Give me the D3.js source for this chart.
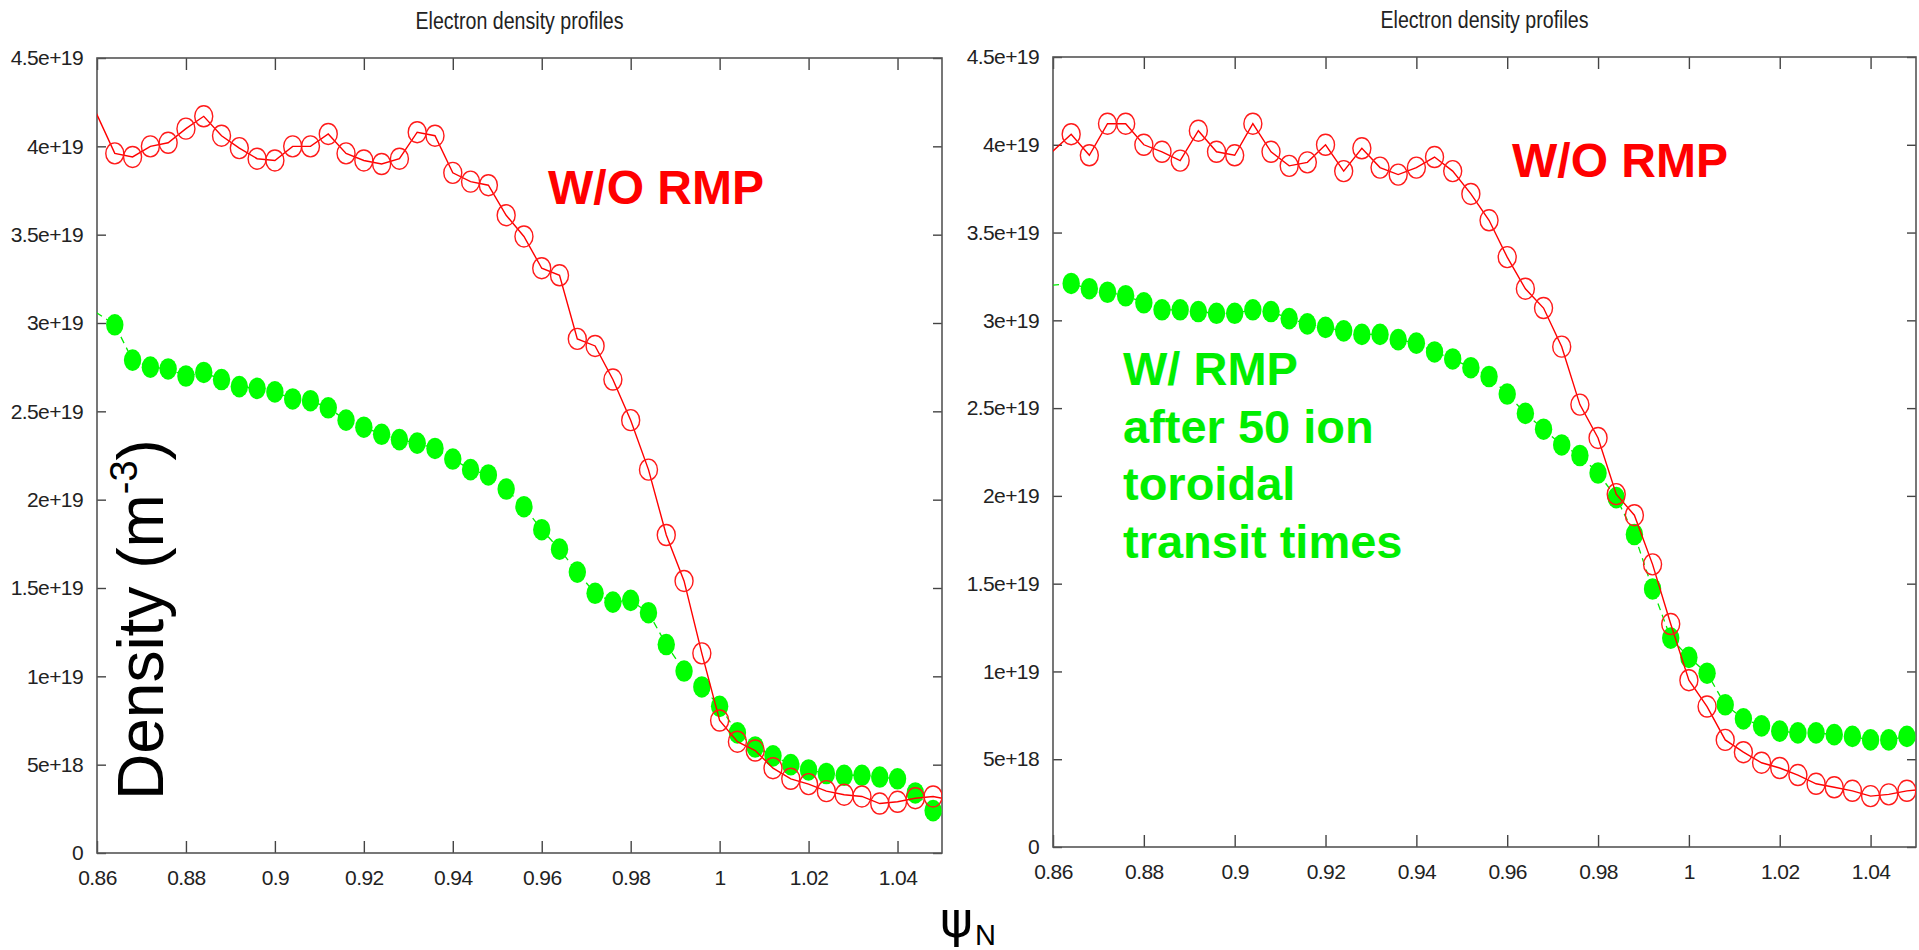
<!DOCTYPE html>
<html lang="en">
<head>
    <meta charset="UTF-8">
    <title>Electron density profiles</title>
    <script src="https://d3js.org/d3.v7.min.js"></script>
    <style>
        body {
            margin: 0;
            background: #fff;
            font-family: "Liberation Sans", Arial, sans-serif;
        }
        svg {
            display: block;
        }
        .tick text {
            font-size: 21px;
            letter-spacing: -0.6px;
            fill: #222;
            font-family: "Liberation Sans", Arial, sans-serif;
        }
        .tick line {
            stroke: #444;
            stroke-width: 1.4;
        }
        .frame {
            fill: none;
            stroke: #555;
            stroke-width: 1.6;
        }
        .title {
            font-size: 23px;
            fill: #222;
        }
    </style>
</head>
<body>
    <svg id="chart"></svg>

    <script>
        // psi_N grid (first and last points fall just outside the plot range)
        const psi = [0.8598, 0.864, 0.868, 0.872, 0.876, 0.880, 0.884, 0.888, 0.892, 0.896,
                     0.900, 0.904, 0.908, 0.912, 0.916, 0.920, 0.924, 0.928, 0.932, 0.936,
                     0.940, 0.944, 0.948, 0.952, 0.956, 0.960, 0.964, 0.968, 0.972, 0.976,
                     0.980, 0.984, 0.988, 0.992, 0.996, 1.000, 1.004, 1.008, 1.012, 1.016,
                     1.020, 1.024, 1.028, 1.032, 1.036, 1.040, 1.044, 1.048, 1.052];

        // densities in units of 1e19 m^-3
        const leftNoRmp = [4.19, 3.96, 3.94, 4.00, 4.02, 4.10, 4.17, 4.06, 3.99, 3.93,
                           3.92, 4.00, 4.00, 4.07, 3.96, 3.92, 3.90, 3.93, 4.08, 4.06,
                           3.85, 3.80, 3.78, 3.61, 3.49, 3.31, 3.27, 2.91, 2.87, 2.68,
                           2.45, 2.17, 1.80, 1.54, 1.13, 0.75, 0.63, 0.58, 0.48, 0.42,
                           0.39, 0.35, 0.33, 0.32, 0.28, 0.29, 0.31, 0.32, 0.30];

        const leftRmp = [3.06, 2.99, 2.79, 2.75, 2.74, 2.70, 2.72, 2.68, 2.64, 2.63,
                         2.61, 2.57, 2.56, 2.52, 2.45, 2.41, 2.37, 2.34, 2.32, 2.29,
                         2.23, 2.17, 2.14, 2.06, 1.96, 1.83, 1.72, 1.59, 1.47, 1.42,
                         1.43, 1.36, 1.18, 1.03, 0.94, 0.83, 0.68, 0.60, 0.55, 0.50,
                         0.47, 0.45, 0.44, 0.44, 0.43, 0.42, 0.34, 0.24, 0.20];

        const rightNoRmp = [3.96, 4.06, 3.94, 4.12, 4.12, 4.00, 3.96, 3.91, 4.08, 3.96,
                            3.94, 4.12, 3.96, 3.88, 3.90, 4.00, 3.85, 3.98, 3.87, 3.83,
                            3.87, 3.93, 3.85, 3.72, 3.57, 3.36, 3.18, 3.07, 2.85, 2.52,
                            2.33, 2.01, 1.89, 1.61, 1.27, 0.95, 0.80, 0.61, 0.54, 0.48,
                            0.45, 0.41, 0.36, 0.34, 0.32, 0.29, 0.30, 0.32, 0.33];

        const rightRmp = [3.20, 3.21, 3.18, 3.16, 3.14, 3.10, 3.06, 3.06, 3.05, 3.04,
                          3.04, 3.06, 3.05, 3.01, 2.98, 2.96, 2.94, 2.92, 2.92, 2.89,
                          2.87, 2.82, 2.78, 2.73, 2.68, 2.58, 2.47, 2.38, 2.29, 2.23,
                          2.13, 1.99, 1.78, 1.47, 1.19, 1.08, 0.99, 0.81, 0.73, 0.69,
                          0.66, 0.65, 0.65, 0.64, 0.63, 0.61, 0.61, 0.63, 0.63];

        // axes
        const xDomain = [0.86, 1.05];
        const yDomain = [0, 4.5e19];
        const xTicks = [0.86, 0.88, 0.90, 0.92, 0.94, 0.96, 0.98, 1.00, 1.02, 1.04];
        const xTickLabels = ["0.86", "0.88", "0.9", "0.92", "0.94", "0.96", "0.98", "1", "1.02", "1.04"];
        const yTicks = [0, 5e18, 1e19, 1.5e19, 2e19, 2.5e19, 3e19, 3.5e19, 4e19, 4.5e19];
        const yTickLabels = ["0", "5e+18", "1e+19", "1.5e+19", "2e+19", "2.5e+19", "3e+19", "3.5e+19", "4e+19", "4.5e+19"];

        const W = 1919, H = 950;
        const svg = d3.select("#chart")
                      .attr("width", W)
                      .attr("height", H);

        function drawPanel(id, box, noRmp, rmp) {
            const x = d3.scaleLinear().domain(xDomain).range([box.left, box.right]);
            const y = d3.scaleLinear().domain(yDomain).range([box.bottom, box.top]);

            svg.append("clipPath")
               .attr("id", "clip-" + id)
               .append("rect")
               .attr("x", box.left)
               .attr("y", box.top)
               .attr("width", box.right - box.left)
               .attr("height", box.bottom - box.top);

            // Bottom axis with labels, ticks pointing in
            svg.append("g")
               .attr("transform", `translate(0,${box.bottom})`)
               .call(d3.axisBottom(x).tickValues(xTicks)
                       .tickFormat((d, i) => xTickLabels[i])
                       .tickSizeInner(-12).tickSizeOuter(0).tickPadding(17))
               .call(g => g.select(".domain").remove());

            // Mirror ticks on top
            svg.append("g")
               .attr("transform", `translate(0,${box.top})`)
               .call(d3.axisTop(x).tickValues(xTicks).tickFormat("")
                       .tickSizeInner(-12).tickSizeOuter(0))
               .call(g => g.select(".domain").remove());

            // Left axis with labels
            svg.append("g")
               .attr("transform", `translate(${box.left},0)`)
               .call(d3.axisLeft(y).tickValues(yTicks)
                       .tickFormat((d, i) => yTickLabels[i])
                       .tickSizeInner(-9).tickSizeOuter(0).tickPadding(14))
               .call(g => g.select(".domain").remove());

            // Mirror ticks on right
            svg.append("g")
               .attr("transform", `translate(${box.right},0)`)
               .call(d3.axisRight(y).tickValues(yTicks).tickFormat("")
                       .tickSizeInner(-9).tickSizeOuter(0))
               .call(g => g.select(".domain").remove());

            svg.append("rect")
               .attr("class", "frame")
               .attr("x", box.left)
               .attr("y", box.top)
               .attr("width", box.right - box.left)
               .attr("height", box.bottom - box.top);

            // Title
            svg.append("text")
               .attr("class", "title")
               .attr("x", (box.left + box.right) / 2 - 104)
               .attr("y", box.top - 29)
               .attr("textLength", 208)
               .attr("lengthAdjust", "spacingAndGlyphs")
               .text("Electron density profiles");

            const plot = svg.append("g").attr("clip-path", `url(#clip-${id})`);

            const toPoints = vals => psi.map((p, i) => ({ x: p, v: vals[i] * 1e19 }));
            const inRange = d => d.x >= xDomain[0] && d.x <= xDomain[1];
            const line = d3.line().x(d => x(d.x)).y(d => y(d.v));

            const green = toPoints(rmp);
            const red = toPoints(noRmp);

            // W/ RMP : green dashed line, filled markers
            plot.append("path")
                .datum(green)
                .attr("d", line)
                .attr("fill", "none")
                .attr("stroke", "#00ee00")
                .attr("stroke-width", 1.3)
                .attr("stroke-dasharray", "7,5");

            plot.selectAll(".dot")
                .data(green.filter(inRange))
                .enter()
                .append("ellipse")
                .attr("class", "dot")
                .attr("cx", d => x(d.x))
                .attr("cy", d => y(d.v))
                .attr("rx", 8.7)
                .attr("ry", 10.8)
                .attr("fill", "#00ff00");

            // W/O RMP : red solid line, open circles
            plot.append("path")
                .datum(red)
                .attr("d", line)
                .attr("fill", "none")
                .attr("stroke", "#ff0000")
                .attr("stroke-width", 1.4);

            plot.selectAll(".ring")
                .data(red.filter(inRange))
                .enter()
                .append("ellipse")
                .attr("class", "ring")
                .attr("cx", d => x(d.x))
                .attr("cy", d => y(d.v))
                .attr("rx", 9)
                .attr("ry", 10.5)
                .attr("fill", "none")
                .attr("stroke", "#ff1a1a")
                .attr("stroke-width", 1.4);
        }

        drawPanel("left", { left: 97, top: 58, right: 942, bottom: 853 }, leftNoRmp, leftRmp);
        drawPanel("right", { left: 1053, top: 57, right: 1916, bottom: 847 }, rightNoRmp, rightRmp);

        // Annotations
        svg.append("text")
           .attr("x", 548).attr("y", 204)
           .attr("font-size", 48).attr("font-weight", "bold")
           .attr("fill", "#ff0000")
           .text("W/O RMP");

        svg.append("text")
           .attr("x", 1512).attr("y", 177)
           .attr("font-size", 48).attr("font-weight", "bold")
           .attr("fill", "#ff0000")
           .text("W/O RMP");

        const greenNote = ["W/ RMP", "after 50 ion", "toroidal", "transit times"];
        svg.append("g")
           .selectAll("text")
           .data(greenNote)
           .enter()
           .append("text")
           .attr("x", 1123)
           .attr("y", (d, i) => 385 + i * 57.7)
           .attr("font-size", 47).attr("font-weight", "bold")
           .attr("fill", "#00ee00")
           .text(d => d);

        // Y label
        const yLab = svg.append("text")
           .attr("transform", "translate(163,800) rotate(-90)")
           .attr("font-size", 64)
           .attr("fill", "#000");
        yLab.append("tspan").text("Density (m");
        yLab.append("tspan").attr("font-size", 38).attr("dy", -26).text("-3");
        yLab.append("tspan").attr("dy", 26).text(")");

        // X label
        const xLab = svg.append("text")
           .attr("x", 940).attr("y", 937)
           .attr("font-family", "'DejaVu Sans', sans-serif")
           .attr("font-size", 50)
           .attr("fill", "#000");
        xLab.append("tspan").text("ψ");
        xLab.append("tspan")
            .attr("font-family", "'Liberation Sans', Arial, sans-serif")
            .attr("font-size", 29).attr("dy", 8).attr("dx", 2).text("N");
    </script>
</body>
</html>
